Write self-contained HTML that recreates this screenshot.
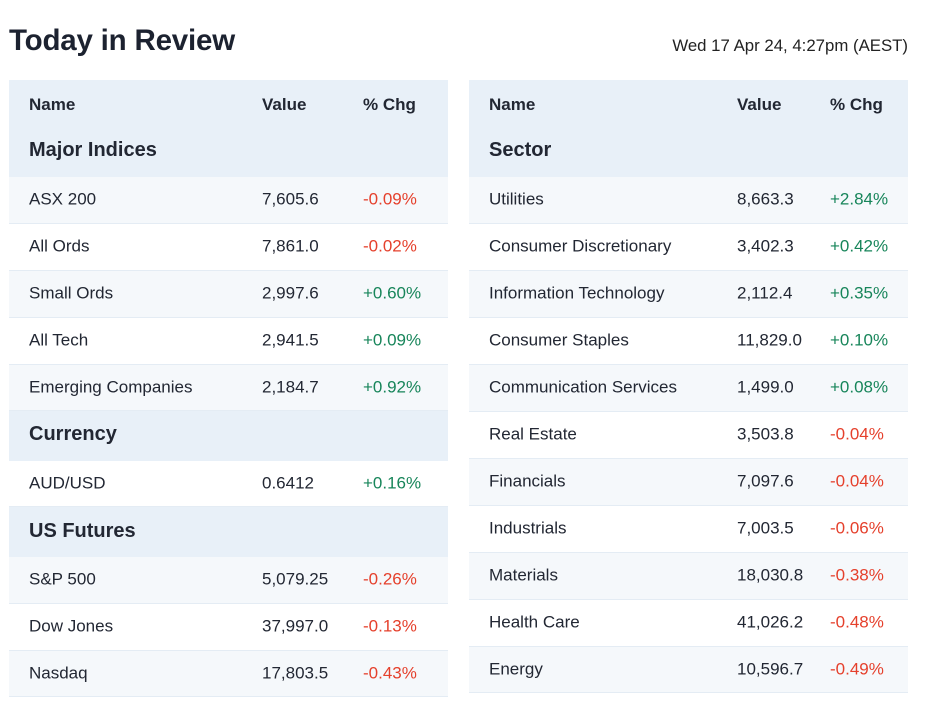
<!DOCTYPE html>
<html><head><meta charset="utf-8"><style>
body{margin:0;width:927px;height:720px;background:#fff;font-family:"Liberation Sans",sans-serif;color:#222733;position:relative;overflow:hidden}
.title{position:absolute;left:9px;top:24px;font-size:29.5px;font-weight:bold;color:#1c2230;letter-spacing:-0.2px}
.date{position:absolute;right:19px;top:36px;font-size:16.8px;color:#222}
.tbl{position:absolute;top:80px;width:439px}
.hd{background:#e8f0f8;height:97px;position:relative}
.hd span{position:absolute;top:15px;font-size:17px;font-weight:bold}
.sec{position:absolute;font-size:20px;font-weight:bold}
.row{position:relative;border-bottom:1px solid #e4ecf4;font-size:17px}
.row span{position:absolute;top:50%;transform:translateY(-52%)}
.sub{background:#e8f0f8;position:relative}
.l{background:#f5f8fb}
.neg{color:#e5402c}.pos{color:#17855a}
</style></head><body>
<div class="title">Today in Review</div>
<div class="date">Wed 17 Apr 24, 4:27pm (AEST)</div>

<div class="tbl" style="left:9px">
<div class="hd"><span style="left:20px">Name</span><span style="left:253px">Value</span><span style="left:354px">% Chg</span><div class="sec" style="left:20px;top:59px">Major Indices</div></div>
<div class="row l" style="height:46px"><span style="left:20px">ASX 200</span><span style="left:253px">7,605.6</span><span class="neg" style="left:354px">-0.09%</span></div>
<div class="row" style="height:46px"><span style="left:20px">All Ords</span><span style="left:253px">7,861.0</span><span class="neg" style="left:354px">-0.02%</span></div>
<div class="row l" style="height:46px"><span style="left:20px">Small Ords</span><span style="left:253px">2,997.6</span><span class="pos" style="left:354px">+0.60%</span></div>
<div class="row" style="height:46px"><span style="left:20px">All Tech</span><span style="left:253px">2,941.5</span><span class="pos" style="left:354px">+0.09%</span></div>
<div class="row l" style="height:45px"><span style="left:20px">Emerging Companies</span><span style="left:253px">2,184.7</span><span class="pos" style="left:354px">+0.92%</span></div>
<div class="sub" style="height:50px"><div class="sec" style="left:20px;top:12px">Currency</div></div>
<div class="row" style="height:45px"><span style="left:20px">AUD/USD</span><span style="left:253px">0.6412</span><span class="pos" style="left:354px">+0.16%</span></div>
<div class="sub" style="height:50px"><div class="sec" style="left:20px;top:13px">US Futures</div></div>
<div class="row l" style="height:46px"><span style="left:20px">S&amp;P 500</span><span style="left:253px">5,079.25</span><span class="neg" style="left:354px">-0.26%</span></div>
<div class="row" style="height:46px"><span style="left:20px">Dow Jones</span><span style="left:253px">37,997.0</span><span class="neg" style="left:354px">-0.13%</span></div>
<div class="row l" style="height:45px"><span style="left:20px">Nasdaq</span><span style="left:253px">17,803.5</span><span class="neg" style="left:354px">-0.43%</span></div>
</div>

<div class="tbl" style="left:469px">
<div class="hd"><span style="left:20px">Name</span><span style="left:268px">Value</span><span style="left:361px">% Chg</span><div class="sec" style="left:20px;top:59px">Sector</div></div>
<div class="row l" style="height:46px"><span style="left:20px">Utilities</span><span style="left:268px">8,663.3</span><span class="pos" style="left:361px">+2.84%</span></div>
<div class="row" style="height:46px"><span style="left:20px">Consumer Discretionary</span><span style="left:268px">3,402.3</span><span class="pos" style="left:361px">+0.42%</span></div>
<div class="row l" style="height:46px"><span style="left:20px">Information Technology</span><span style="left:268px">2,112.4</span><span class="pos" style="left:361px">+0.35%</span></div>
<div class="row" style="height:46px"><span style="left:20px">Consumer Staples</span><span style="left:268px">11,829.0</span><span class="pos" style="left:361px">+0.10%</span></div>
<div class="row l" style="height:46px"><span style="left:20px">Communication Services</span><span style="left:268px">1,499.0</span><span class="pos" style="left:361px">+0.08%</span></div>
<div class="row" style="height:46px"><span style="left:20px">Real Estate</span><span style="left:268px">3,503.8</span><span class="neg" style="left:361px">-0.04%</span></div>
<div class="row l" style="height:46px"><span style="left:20px">Financials</span><span style="left:268px">7,097.6</span><span class="neg" style="left:361px">-0.04%</span></div>
<div class="row" style="height:46px"><span style="left:20px">Industrials</span><span style="left:268px">7,003.5</span><span class="neg" style="left:361px">-0.06%</span></div>
<div class="row l" style="height:46px"><span style="left:20px">Materials</span><span style="left:268px">18,030.8</span><span class="neg" style="left:361px">-0.38%</span></div>
<div class="row" style="height:46px"><span style="left:20px">Health Care</span><span style="left:268px">41,026.2</span><span class="neg" style="left:361px">-0.48%</span></div>
<div class="row l" style="height:45px"><span style="left:20px">Energy</span><span style="left:268px">10,596.7</span><span class="neg" style="left:361px">-0.49%</span></div>
</div>
</body></html>
